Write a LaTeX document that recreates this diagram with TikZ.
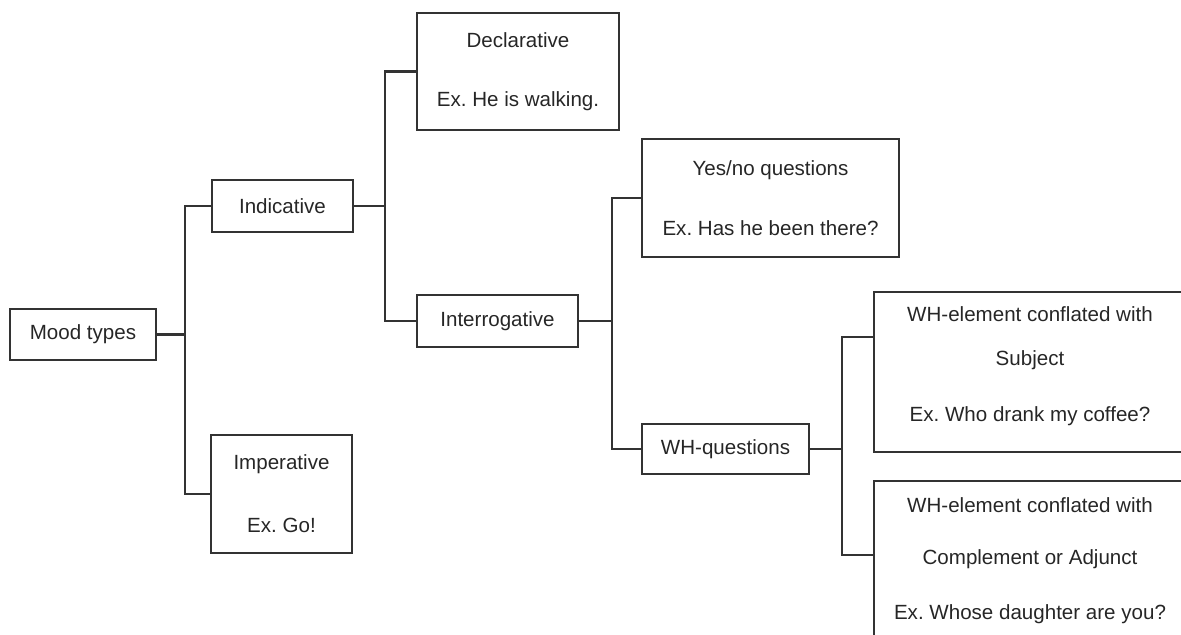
\documentclass[tikz,border=0pt]{standalone}
\usepackage{fontspec}
\setmainfont{Liberation Sans}
\usetikzlibrary{positioning}
\definecolor{inkgray}{HTML}{333333}
\newcommand{\padbelow}{\rule[-8.5pt]{0pt}{0pt}}
\frenchspacing

\begin{document}
\begin{tikzpicture}[
  x=0.02cm, y=-0.02cm,
  box/.style={draw=inkgray, line width=1.1pt, inner sep=0pt, align=center,
    font=\fontsize{11.7}{24.5}\selectfont, text=black!85},
  link/.style={draw=inkgray, line width=1.2pt},
]
  \useasboundingbox (0,0) rectangle (1181,635);
  \clip (0,0) rectangle (1181,635);

  % Root
  \node[box, minimum width=2.92cm, minimum height=1.02cm] (mood) at (83,334.5) {Mood types};

  % Level 1
  \node[box, minimum width=2.82cm, minimum height=1.04cm] (indic) at (282.5,206) {Indicative};
  \node[box, minimum width=2.82cm, minimum height=2.36cm] (imper) at (281.5,494)
    {Imperative\\[11.3pt]Ex. Go!};

  % Level 2
  \node[box, minimum width=4.04cm, minimum height=2.34cm] (decl) at (518,71.5)
    {Declarative\\[9pt]Ex. He is walking.};
  \node[box, minimum width=3.22cm, minimum height=1.04cm] (interr) at (497.5,321) {Interrogative};

  % Level 3
  \node[box, minimum width=5.14cm, minimum height=2.36cm] (yesno) at (770.5,198)
    {Yes/no questions\\[9.6pt]Ex. Has he been there?};
  \node[box, minimum width=3.34cm, minimum height=1.0cm] (whq) at (725.5,449) {WH-questions};

  % Level 4
  \node[box, minimum width=6.24cm, minimum height=3.2cm] (whsubj) at (1030,372)
    {WH-element conflated with\\Subject\\[7.9pt]Ex. Who drank my coffee?\padbelow};
  \node[box, minimum width=6.24cm, minimum height=3.4cm] (whcomp) at (1030,566)
    {WH-element conflated with\\[5pt]Complement or Adjunct\\[6.8pt]Ex. Whose daughter are you?\padbelow};

  % Connectors
  \draw[link] (mood.east) -- ++(28,0) |- (indic.west);
  \draw[link] (mood.east) -- ++(28,0) |- (imper.west);
  \draw[link] (indic.east) -- ++(31,0) |- (decl.west);
  \draw[link] (indic.east) -- ++(31,0) |- (interr.west);
  \draw[link] (interr.east) -- ++(33,0) |- (yesno.west);
  \draw[link] (interr.east) -- ++(33,0) |- (whq.west);
  \draw[link] (whq.east) -- ++(32,0) |- ([yshift=0.7cm]whsubj.west);
  \draw[link] (whq.east) -- ++(32,0) |- ([yshift=0.22cm]whcomp.west);
\end{tikzpicture}
\end{document}
